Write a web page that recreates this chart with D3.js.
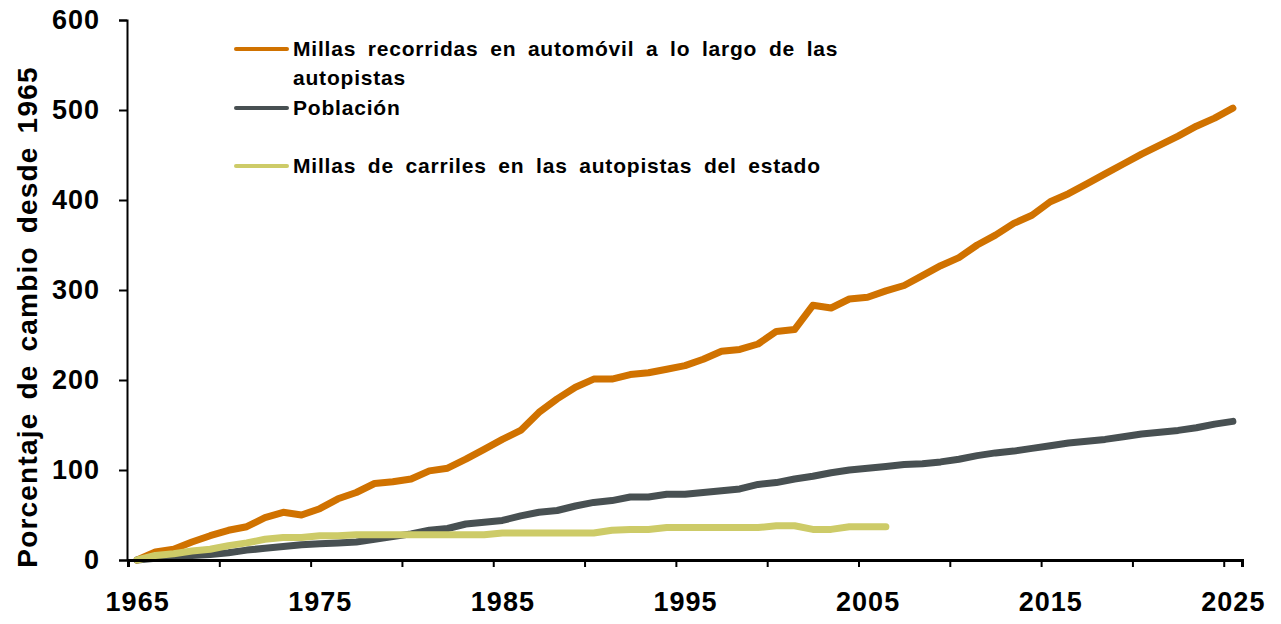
<!DOCTYPE html>
<html>
<head>
<meta charset="utf-8">
<script src="https://cdn.jsdelivr.net/npm/d3@7"></script>
<style>
  body { margin: 0; background: #fff; }
  text { font-family: "Liberation Sans", Arial, sans-serif; font-weight: bold; }
</style>
</head>
<body>
<div id="main"></div>
<script>
// years 1965..2025
const years = d3.range(1965, 2026);

// Millas recorridas en automóvil (VMT), % change since 1965
const vmt = [0, 9, 12, 20, 27, 33, 37, 47, 53, 50, 57, 68, 75, 85, 87, 90,
  99, 102, 112, 123, 134, 144, 164, 179, 192, 201, 201, 206, 208, 212, 216,
  223, 232, 234, 240, 254, 256, 283, 280, 290, 292, 299, 305, 316, 327, 336,
  350, 361, 374, 383, 398, 407, 418, 429, 440, 451, 461, 471, 482, 491, 502];

// Población
const population = [0, 2, 4, 5, 6, 8, 11, 13, 15, 17, 18, 19, 20, 23, 26, 29,
  33, 35, 40, 42, 44, 49, 53, 55, 60, 64, 66, 70, 70, 73, 73,
  75, 77, 79, 84, 86, 90, 93, 97, 100, 102, 104, 106, 107, 109, 112,
  116, 119, 121, 124, 127, 130, 132, 134, 137, 140, 142, 144, 147, 151, 154];

// Millas de carriles en las autopistas del estado (1965..2006)
const laneMiles = [0, 5, 7, 10, 12, 16, 19, 23, 25, 25, 27, 27, 28, 28, 28, 28,
  28, 28, 28, 28, 30, 30, 30, 30, 30, 30, 33, 34, 34, 36, 36,
  36, 36, 36, 36, 38, 38, 34, 34, 37, 37, 37];

const yTicks = [0, 100, 200, 300, 400, 500, 600];
const xLabels = [1965, 1975, 1985, 1995, 2005, 2015, 2025];
const xTickMarks = d3.range(1964.5, 2025, 5);

const series = [
  { name: "Millas recorridas en automóvil a lo largo de las autopistas", values: vmt, color: "#d07200" },
  { name: "Población", values: population, color: "#485052" },
  { name: "Millas de carriles en las autopistas del estado", values: laneMiles, color: "#cdcb68" }
];

const width = 1281, height = 624;
const svg = d3.select("#main").append("svg")
  .attr("width", width)
  .attr("height", height);

const x = d3.scaleLinear().domain([1964.5, 2025.5]).range([128, 1242]);
const y = d3.scaleLinear().domain([0, 600]).range([560, 20]);

// y axis
const yAxis = svg.append("g")
  .attr("transform", "translate(127,0)")
  .call(d3.axisLeft(y).tickValues(yTicks).tickSize(8).tickPadding(19));
yAxis.select(".domain").attr("stroke", "#000").attr("stroke-width", 2);
yAxis.selectAll(".tick line").attr("stroke", "#000").attr("stroke-width", 2);
yAxis.selectAll(".tick text").attr("font-size", 27).attr("letter-spacing", 1).attr("fill", "#000");

// lines, Excel order: later series on top
const line = d3.line()
  .x((d, i) => x(years[i]))
  .y(d => y(d));

svg.append("g").selectAll("path")
  .data(series)
  .enter()
  .append("path")
  .attr("fill", "none")
  .attr("stroke", d => d.color)
  .attr("stroke-width", 7)
  .attr("stroke-linejoin", "round")
  .attr("stroke-linecap", "round")
  .attr("d", d => line(d.values));

// x axis: tick marks between categories
const xAxis = svg.append("g")
  .attr("transform", "translate(0,560)")
  .call(d3.axisBottom(x).tickValues(xTickMarks).tickSize(7).tickFormat(""));
xAxis.select(".domain").attr("stroke", "#000").attr("stroke-width", 3);
xAxis.selectAll(".tick line").attr("stroke", "#000").attr("stroke-width", 2);

const xLab = svg.append("g")
  .attr("transform", "translate(0,560)")
  .call(d3.axisBottom(x).tickValues(xLabels).tickSize(0).tickPadding(32).tickFormat(d3.format("d")));
xLab.select(".domain").remove();
xLab.selectAll(".tick text").attr("font-size", 27).attr("letter-spacing", 1).attr("fill", "#000");

// y title
svg.append("text")
  .attr("transform", "translate(37,317) rotate(-90)")
  .attr("text-anchor", "middle")
  .attr("font-size", 28)
  .attr("letter-spacing", 1.2)
  .attr("word-spacing", 4)
  .attr("fill", "#000")
  .text("Porcentaje de cambio desde 1965");

// legend
const legend = [
  { lines: ["Millas recorridas en automóvil a lo largo de las", "autopistas"], color: series[0].color, y: 49 },
  { lines: ["Población"], color: series[1].color, y: 108 },
  { lines: ["Millas de carriles en las autopistas del estado"], color: series[2].color, y: 166 }
];
const lg = svg.append("g");
legend.forEach(item => {
  lg.append("line")
    .attr("x1", 236).attr("x2", 287)
    .attr("y1", item.y).attr("y2", item.y)
    .attr("stroke", item.color)
    .attr("stroke-width", 4)
    .attr("stroke-linecap", "round");
  item.lines.forEach((t, i) => {
    lg.append("text")
      .attr("x", 293)
      .attr("y", item.y + i * 29)
      .attr("dy", "0.35em")
      .attr("font-size", 21)
      .attr("letter-spacing", 0.8)
      .attr("word-spacing", 5)
      .attr("fill", "#000")
      .text(t);
  });
});
</script>
</body>
</html>
